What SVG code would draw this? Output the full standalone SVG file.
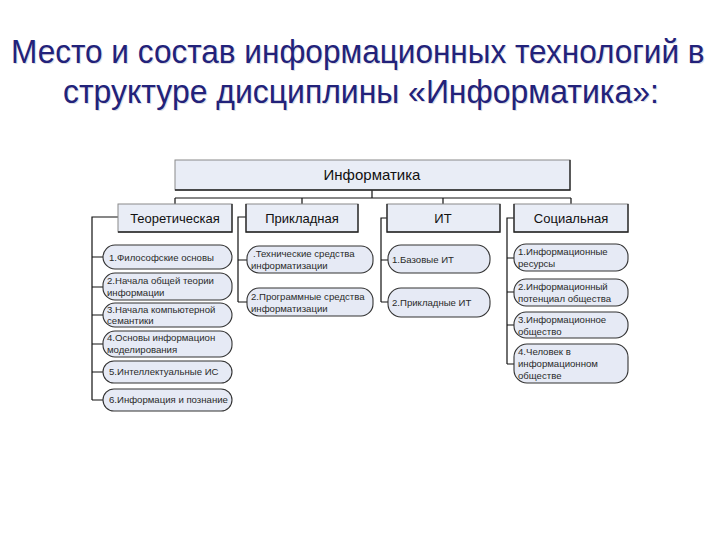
<svg xmlns="http://www.w3.org/2000/svg" width="720" height="540" viewBox="0 0 720 540">
<style>
.title{font-family:"Liberation Sans",Arial,sans-serif;font-size:34px;fill:#22227a}
.shadow{fill:#dcdce4}
.box{fill:#e9edf6;stroke:#8a8a8a;stroke-width:1}
.edge{fill:none;stroke:#222;stroke-width:1.3}
.pill{fill:#e6eaf5;stroke:#333;stroke-width:1.1}
.cat{font-family:"Liberation Sans",Arial,sans-serif;font-size:13px;fill:#111;text-anchor:middle}
.top{font-family:"Liberation Sans",Arial,sans-serif;font-size:15px;fill:#111;text-anchor:middle}
.t{font-family:"Liberation Sans",Arial,sans-serif;font-size:9.6px;fill:#2a2a2a}
.con{fill:none;stroke:#111;stroke-width:1.2}
</style>
<rect width="720" height="540" fill="#ffffff"/>
<g id="title">
<text class="title shadow" transform="translate(12,64) scale(0.85,1)" x="0" y="0" textLength="816" lengthAdjust="spacingAndGlyphs">Место и состав информационных технологий в</text>
<text class="title shadow" transform="translate(64,104) scale(0.85,1)" x="0" y="0" textLength="701" lengthAdjust="spacingAndGlyphs">структуре дисциплины «Информатика»:</text>
<text class="title" transform="translate(11,63) scale(0.85,1)" x="0" y="0" textLength="816" lengthAdjust="spacingAndGlyphs">Место и состав информационных технологий в</text>
<text class="title" transform="translate(63,103) scale(0.85,1)" x="0" y="0" textLength="701" lengthAdjust="spacingAndGlyphs">структуре дисциплины «Информатика»:</text>
</g>
<g id="connectors">
<path class="con" d="M372,190 V198 M175,198 H571 M175,198 V204 M302,198 V204 M443,198 V204 M571,198 V204"/>
<path class="con" d="M118,217 H92 V400 M92,257 H103 M92,287 H103 M92,315 H103 M92,344 H103 M92,372 H103 M92,400 H103"/>
<path class="con" d="M246,217 H238 V302 M238,260 H247 M238,302 H247"/>
<path class="con" d="M387,218 H381 V302 M381,260 H388 M381,302 H388"/>
<path class="con" d="M514,218 H507 V364 M507,258 H514 M507,292 H514 M507,325 H514 M507,364 H514"/>
</g>
<g id="n-informatika">
<rect class="box" x="175" y="160" width="395" height="30"/>
<path class="edge" d="M570,160 V190 H175"/>
<text class="top" x="372" y="180">Информатика</text>
</g>
<g id="n-teor">
<rect class="box" x="118" y="204" width="114" height="28"/>
<path class="edge" d="M232,204 V232 H118"/>
<text class="cat" x="175" y="223">Теоретическая</text>
</g>
<g id="n-prikl">
<rect class="box" x="246" y="204" width="112" height="28"/>
<path class="edge" d="M246,204 V232 H358 V204"/>
<text class="cat" x="302" y="223">Прикладная</text>
</g>
<g id="n-it">
<rect class="box" x="387" y="204" width="113" height="28"/>
<path class="edge" d="M387,204 V232 H500 V204"/>
<text class="cat" x="443" y="223">ИТ</text>
</g>
<g id="n-soc">
<rect class="box" x="514" y="204" width="114" height="28"/>
<path class="edge" d="M514,204 V232 H628 V204"/>
<text class="cat" x="571" y="223">Социальная</text>
</g>
<g id="t1"><rect class="pill" x="103" y="245" width="129" height="24" rx="12"/><text class="t" x="109" y="261">1.Философские основы</text></g>
<g id="t2"><rect class="pill" x="103" y="273" width="129" height="27" rx="12"/><text class="t" x="107" y="284">2.Начала общей теории</text><text class="t" x="107" y="296">информации</text></g>
<g id="t3"><rect class="pill" x="103" y="303" width="129" height="24" rx="12"/><text class="t" x="107" y="313">3.Начала компьютерной</text><text class="t" x="107" y="324">семантики</text></g>
<g id="t4"><rect class="pill" x="103" y="331" width="129" height="26" rx="12"/><text class="t" x="107" y="341">4.Основы информацион</text><text class="t" x="107" y="353">моделирования</text></g>
<g id="t5"><rect class="pill" x="103" y="361" width="129" height="22" rx="11"/><text class="t" x="109" y="375">5.Интеллектуальные ИС</text></g>
<g id="t6"><rect class="pill" x="103" y="389" width="129" height="22" rx="11"/><text class="t" x="109" y="403">6.Информация и познание</text></g>
<g id="p1"><rect class="pill" x="247" y="246" width="126" height="27" rx="12"/><text class="t" x="253" y="257">.Технические средства</text><text class="t" x="251" y="269">информатизации</text></g>
<g id="p2"><rect class="pill" x="247" y="288" width="126" height="28" rx="12"/><text class="t" x="251" y="300">2.Программные средства</text><text class="t" x="251" y="312">информатизации</text></g>
<g id="i1"><rect class="pill" x="388" y="245" width="102" height="28" rx="13"/><text class="t" x="392" y="263">1.Базовые ИТ</text></g>
<g id="i2"><rect class="pill" x="388" y="288" width="102" height="29" rx="13"/><text class="t" x="392" y="306">2.Прикладные ИТ</text></g>
<g id="s1"><rect class="pill" x="514" y="244" width="114" height="27" rx="12"/><text class="t" x="518" y="255">1.Информационные</text><text class="t" x="518" y="267">ресурсы</text></g>
<g id="s2"><rect class="pill" x="514" y="279" width="114" height="27" rx="12"/><text class="t" x="518" y="290">2.Информационный</text><text class="t" x="518" y="302">потенциал общества</text></g>
<g id="s3"><rect class="pill" x="514" y="312" width="114" height="26" rx="12"/><text class="t" x="518" y="323">3.Информационное</text><text class="t" x="518" y="335">общество</text></g>
<g id="s4"><rect class="pill" x="514" y="344" width="114" height="39" rx="13"/><text class="t" x="518" y="355">4.Человек в</text><text class="t" x="518" y="367">информационном</text><text class="t" x="518" y="379">обществе</text></g>
</svg>
